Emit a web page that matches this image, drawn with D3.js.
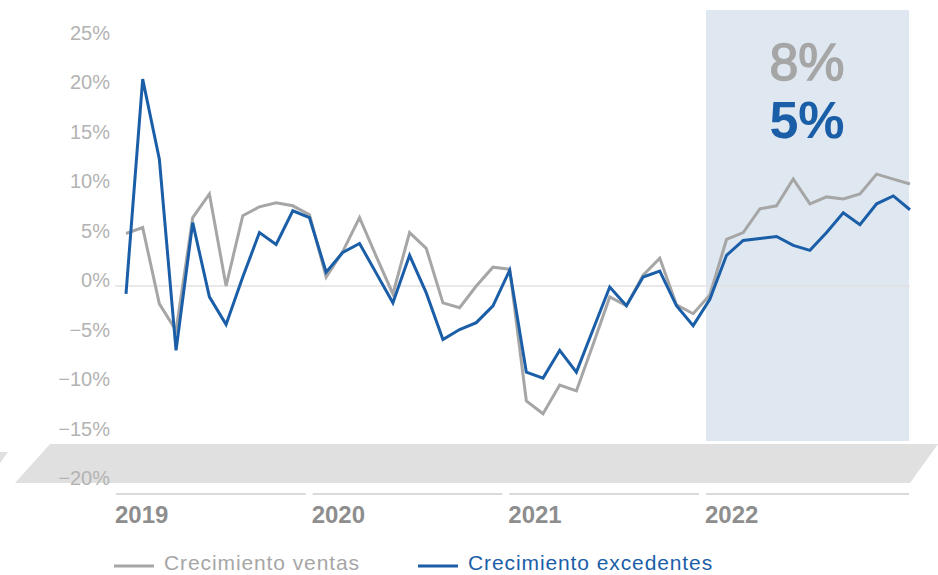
<!DOCTYPE html>
<html>
<head>
<meta charset="utf-8">
<script src="https://cdn.jsdelivr.net/npm/d3@7"></script>
<style>
  html, body { margin: 0; padding: 0; background: #ffffff; }
  svg { display: block; }
  text { font-family: "Liberation Sans", Arial, sans-serif; }
</style>
</head>
<body>
<svg id="chart" width="938" height="575"></svg>
<script>
// ---- Data (monthly, Jan 2019 – Dec 2022) ----
const years = ["2019", "2020", "2021", "2022"];
const ventas = [
  5.3, 5.9, -1.8, -4.5, 6.9, 9.3, 0.0, 7.1, 8.0, 8.4, 8.1, 7.2,
  0.9, 3.5, 6.9, 3.0, -0.8, 5.4, 3.8, -1.7, -2.2, 0.0, 1.9, 1.7,
  -11.6, -12.9, -10.0, -10.6, -5.9, -1.1, -2.0, 1.1, 2.8, -1.9, -2.8, -0.9,
  4.7, 5.4, 7.8, 8.1, 10.8, 8.3, 9.0, 8.8, 9.3, 11.3, 10.8, 10.3
];
const excedentes = [
  -0.8, 20.9, 12.8, -6.5, 6.4, -1.1, -3.9, 0.9, 5.4, 4.2, 7.6, 6.9,
  1.4, 3.4, 4.3, 1.3, -1.7, 3.1, -0.7, -5.4, -4.4, -3.7, -2.0, 1.6,
  -8.7, -9.3, -6.5, -8.7, -4.4, -0.1, -2.0, 0.9, 1.5, -2.0, -4.0, -1.35,
  3.1, 4.6, 4.8, 5.0, 4.1, 3.6, 5.4, 7.4, 6.2, 8.3, 9.1, 7.7
];
const yTicks = [25, 20, 15, 10, 5, 0, -5, -10, -15, -20];
const seriesNames = ["Crecimiento ventas", "Crecimiento excedentes"];
const highlightLabels = ["8%", "5%"];

// ---- Styles ----
const GRAY = "#a6a6a6";
const BLUE = "#1b5ea8";

const svg = d3.select("#chart");

const x = d3.scaleLinear().domain([0, ventas.length - 1]).range([126, 910]);
const y = d3.scaleLinear().domain([-20, 25]).range([484, 38.5]);
const yearStart = d3.scaleLinear().domain([0, years.length - 1]).range([116, 706]);

// Highlight shading for 2022
svg.append("rect")
  .attr("x", yearStart(3))
  .attr("y", 10)
  .attr("width", x(ventas.length - 1) - 1 - yearStart(3))
  .attr("height", 431)
  .attr("fill", "#dfe8f1");

// Decorative grey band
svg.append("polygon")
  .attr("points", "50,444 938,444 910,483 15,483")
  .attr("fill", "#e0e0e0");
svg.append("polygon")
  .attr("points", "0,452 8,452 0,463")
  .attr("fill", "#e0e0e0");

// Zero line
svg.append("line")
  .attr("x1", 115).attr("x2", 910)
  .attr("y1", y(0)).attr("y2", y(0))
  .attr("stroke", "#e2e2e2").attr("stroke-width", 1.5);

// Y tick labels
svg.append("g").selectAll("text")
  .data(yTicks)
  .join("text")
  .attr("x", 110)
  .attr("y", d => y(d) + 1)
  .attr("text-anchor", "end")
  .attr("font-size", 20)
  .attr("fill", "#b3b3b3")
  .text(d => (d < 0 ? "\u2212" + Math.abs(d) : d) + "%");

// Year axis segments and labels
const yearG = svg.append("g");
years.forEach((yr, i) => {
  const x0 = yearStart(i);
  const x1 = i < years.length - 1 ? yearStart(i + 1) - 7 : x(ventas.length - 1) - 1;
  yearG.append("line")
    .attr("x1", x0).attr("x2", x1)
    .attr("y1", 494).attr("y2", 494)
    .attr("stroke", "#dadada").attr("stroke-width", 2);
  yearG.append("text")
    .attr("x", x0 - 1)
    .attr("y", 523)
    .attr("font-size", 24)
    .attr("font-weight", "bold")
    .attr("fill", "#8e8e8e")
    .text(yr);
});

// Lines
const line = d3.line().x((d, i) => x(i)).y(d => y(d));
svg.append("path")
  .datum(ventas)
  .attr("d", line)
  .attr("fill", "none")
  .attr("stroke", GRAY)
  .attr("stroke-width", 3)
  .attr("stroke-linejoin", "miter");
svg.append("path")
  .datum(excedentes)
  .attr("d", line)
  .attr("fill", "none")
  .attr("stroke", BLUE)
  .attr("stroke-width", 3)
  .attr("stroke-linejoin", "miter");

// Highlight numbers
svg.append("text")
  .attr("x", 807).attr("y", 80)
  .attr("text-anchor", "middle")
  .attr("font-size", 52)
  .attr("fill", GRAY)
  .attr("stroke", GRAY)
  .attr("stroke-width", 1.4)
  .text(highlightLabels[0]);
svg.append("text")
  .attr("x", 807).attr("y", 138)
  .attr("text-anchor", "middle")
  .attr("font-size", 52)
  .attr("font-weight", "bold")
  .attr("fill", BLUE)
  .text(highlightLabels[1]);

// Legend
const legend = [
  { name: seriesNames[0], color: GRAY, x: 114 },
  { name: seriesNames[1], color: BLUE, x: 418 }
];
const lg = svg.append("g");
legend.forEach(l => {
  lg.append("line")
    .attr("x1", l.x).attr("x2", l.x + 40)
    .attr("y1", 566).attr("y2", 566)
    .attr("stroke", l.color).attr("stroke-width", 3);
  lg.append("text")
    .attr("x", l.x + 50).attr("y", 570)
    .attr("font-size", 21)
    .attr("letter-spacing", 0.9)
    .attr("fill", l.color)
    .text(l.name);
});
</script>
</body>
</html>
